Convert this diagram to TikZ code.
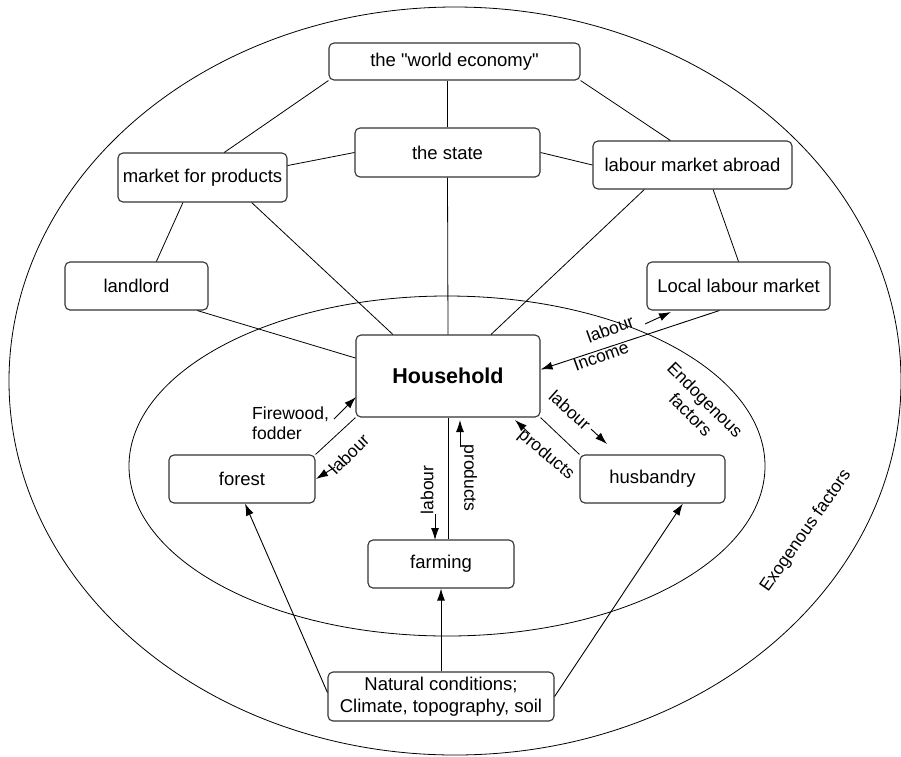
\documentclass[tikz,border=0pt]{standalone}
\usepackage{fontspec}
\setmainfont{Liberation Sans}[Ligatures=TeXOff]
\usetikzlibrary{arrows.meta}
\tikzset{
	box/.style={draw=black!80, line width=1.1pt, rounded corners=5pt, fill=white,
		align=center, inner sep=2pt, minimum width=146pt, minimum height=48pt,
		font=\fontsize{18.5}{22}\selectfont},
	conn/.style={line width=0.8pt},
	flow/.style={line width=0.9pt, -{Latex[length=12pt,width=8pt]}},
	lbl/.style={inner sep=0pt, font=\fontsize{17.5}{20.5}\selectfont},
}
\begin{document}
\begin{tikzpicture}[x=1pt,y=-1pt]
	\useasboundingbox (0,0) rectangle (901,756);
		% factor rings
			\draw[conn] (455,381) ellipse (446pt and 374pt);
			\draw[conn] (447,466) ellipse (318pt and 170pt);
		% exogenous boxes
			\node[box, minimum width=251pt, minimum height=37pt] (world) at (454.5,61.5) {the "world economy"};
			\node[box, minimum width=185pt, minimum height=49pt] (state) at (447.5,152.5) {the state};
			\node[box, minimum width=169pt, minimum height=49pt] (market) at (202.5,177.5) {market for products};
			\node[box, minimum width=199pt] (abroad) at (692.5,165) {labour market abroad};
			\node[box, minimum width=143pt] (landlord) at (136.5,286) {landlord};
			\node[box, minimum width=183pt] (local) at (738.5,286) {Local labour market};
		% household and its activities
			\node[box, minimum width=184pt, minimum height=82pt,
				font=\bfseries\fontsize{21.5}{25}\selectfont] (house) at (448,376) {Household};
			\node[box] (forest) at (242,479) {forest};
			\node[box, minimum width=145pt] (husbandry) at (652.5,479) {husbandry};
			\node[box] (farming) at (441,564) {farming};
			\node[box, minimum width=226pt, minimum height=49pt] (nature) at (441,696.5) {Natural conditions;\\Climate, topography, soil};
		% plain links
			\foreach \a/\b in {world.south west/market.49, world.south east/abroad.132,
				state.west/market.8, state.east/abroad.west, state.south/house.north,
				market.232/landlord.51, market.-27/house.143, abroad.-50/local.north,
				abroad.207/house.44, landlord.-22/house.169,
				house.south west/forest.north east, house.south east/husbandry.north west}{
				\draw[conn] (\a) -- (\b);
				}
			\draw[conn] (state.north) -- (state.north |- world.south);
			\draw[conn] (house.south) -- (house.south |- farming.north);
		% flows
			\foreach \a/\b in {local.232/house.4, nature.178/forest.-83,
				nature.north/farming.south, nature.east/husbandry.-39}{
				\draw[flow] (\a) -- (\b);
				}
		% flow labels
			\node[lbl, rotate=20] (lablocal) at (610,329) {labour};
			\node[lbl, rotate=20] (income) at (601,356) {Income};
			\draw[flow] (645,324) -- (671,312);
			\node[lbl, align=left, anchor=west] (fire) at (252,423) {Firewood,\\fodder};
			\draw[flow] (334,419) -- (356,397);
			\node[lbl, rotate=45] (labforest) at (349,454) {labour};
			\draw[flow] (335,467) -- (316,479);
			\node[lbl, rotate=90] (labfarm) at (427,490) {labour};
			\draw[flow] (435,514) -- (435,540);
			\node[lbl, rotate=-90] (prodfarm) at (469,478) {products};
			\draw[flow] (460,447) -- (460,420);
			\node[lbl, rotate=-42] (labhusb) at (570,410) {labour};
			\draw[flow] (591,429) -- (607,444);
			\node[lbl, rotate=-40] (prodhusb) at (546,455) {products};
			\draw[flow] (530,434) -- (515,420);
		% ring labels
			\node[lbl, rotate=-45, align=center] (endo) at (698,407) {Endogenous\\factors};
			\node[lbl, rotate=55] (exo) at (806,531) {Exogenous factors};
\end{tikzpicture}
\end{document}
